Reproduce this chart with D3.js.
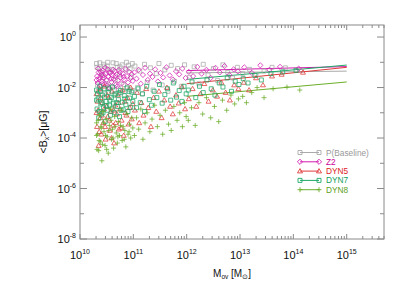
<!DOCTYPE html>
<html>
<head>
<meta charset="utf-8">
<script src="https://cdn.jsdelivr.net/npm/d3@7"></script>
<style>
  body { margin: 0; background: #fff; }
  text { font-family: "Liberation Sans", Arial, sans-serif; }
</style>
</head>
<body>
<svg></svg>
<script>
var width = 407;
var height = 291;

var margin = { left: 80, top: 25, right: 23, bottom: 52 };

// [log10 Mov, log10 <Bx>]
var baseline = [[10.31,-1.05],[10.32,-1.20],[10.33,-1.90],[10.34,-2.15],[10.36,-1.25],[10.37,-1.02],[10.39,-2.10],[10.41,-1.40],[10.42,-1.60],[10.44,-1.08],[10.46,-1.15],[10.47,-2.25],[10.49,-1.85],[10.51,-1.15],[10.52,-1.00],[10.54,-2.00],[10.56,-1.35],[10.58,-1.95],[10.60,-1.28],[10.62,-1.02],[10.64,-2.10],[10.66,-1.70],[10.68,-1.05],[10.70,-1.20],[10.72,-2.05],[10.74,-1.50],[10.75,-1.18],[10.77,-2.20],[10.79,-1.10],[10.82,-1.88],[10.84,-2.15],[10.86,-1.30],[10.87,-1.00],[10.89,-1.98],[10.91,-1.12],[10.93,-2.08],[10.94,-1.25],[10.96,-1.58],[10.98,-1.05],[10.99,-2.12],
  [11.03,-1.15],[11.08,-2.00],[11.12,-1.35],[11.17,-2.25],[11.21,-1.08],[11.26,-1.80],[11.32,-1.22],[11.37,-2.10],[11.43,-1.45],[11.48,-1.05],[11.54,-1.90],[11.59,-1.30],[11.65,-2.15],[11.71,-1.12],[11.77,-1.75],[11.83,-1.25],[11.90,-1.95],[11.96,-1.10],
  [12.05,-1.60],[12.14,-1.18],[12.23,-1.85],[12.31,-1.08],[12.40,-1.50],[12.50,-1.25],[12.58,-1.72],[12.68,-1.10],[12.77,-1.40],[12.86,-1.62],[12.95,-1.20],
  [13.05,-1.45],[13.18,-1.28],[13.30,-1.52],[13.45,-1.35],[13.60,-1.20],[13.85,-1.22],[14.15,-1.32]];

var z2 = [[10.31,-1.70],[10.32,-1.55],[10.33,-1.82],[10.34,-1.25],[10.35,-1.40],[10.36,-1.68],[10.37,-1.60],[10.38,-1.95],[10.39,-1.38],[10.40,-1.50],[10.41,-1.75],[10.42,-1.85],[10.43,-1.33],[10.44,-1.52],[10.45,-1.62],[10.46,-1.88],[10.47,-1.22],[10.48,-1.45],[10.50,-1.70],[10.51,-1.92],[10.52,-1.28],[10.53,-1.58],[10.54,-1.40],[10.55,-2.02],[10.57,-1.42],[10.58,-1.65],[10.59,-1.78],[10.61,-1.52],[10.62,-1.30],[10.63,-1.66],[10.65,-1.35],[10.66,-1.55],[10.67,-1.90],[10.69,-1.48],[10.70,-1.95],[10.71,-1.72],[10.73,-1.30],[10.75,-1.40],[10.76,-1.60],[10.78,-1.84],[10.80,-1.44],[10.82,-1.58],[10.83,-1.68],[10.85,-1.25],[10.88,-1.55],[10.90,-1.80],[10.92,-1.38],[10.95,-1.62],[10.97,-1.47],[10.99,-1.74],
  [11.02,-1.40],[11.06,-1.65],[11.10,-1.30],[11.14,-1.85],[11.18,-1.50],[11.22,-1.22],[11.27,-1.70],[11.31,-1.45],[11.36,-1.58],[11.41,-1.28],[11.46,-1.76],[11.51,-1.42],[11.56,-1.60],[11.62,-1.20],[11.68,-1.52],[11.74,-1.68],[11.80,-1.35],[11.86,-1.48],[11.92,-1.25],[11.98,-1.62],
  [12.04,-1.38],[12.12,-1.55],[12.20,-1.18],[12.28,-1.45],[12.37,-1.30],[12.45,-1.62],[12.54,-1.22],[12.62,-1.40],[12.71,-1.15],[12.80,-1.50],[12.88,-1.28],[12.96,-1.36],
  [13.08,-1.20],[13.22,-1.42],[13.38,-1.12],[13.55,-1.30],[13.75,-1.18],[14.10,-1.25]];

var dyn5 = [[10.31,-2.25],[10.31,-3.00],[10.32,-3.55],[10.33,-2.55],[10.34,-2.90],[10.35,-4.30],[10.36,-3.75],[10.37,-2.05],[10.38,-3.20],[10.39,-2.40],[10.40,-3.85],[10.41,-3.10],[10.42,-2.60],[10.44,-3.40],[10.45,-2.85],[10.46,-1.95],[10.47,-3.55],[10.48,-4.05],[10.50,-2.75],[10.51,-2.30],[10.52,-3.15],[10.54,-2.40],[10.55,-3.30],[10.56,-3.70],[10.58,-2.95],[10.59,-4.00],[10.60,-2.15],[10.62,-3.50],[10.63,-2.90],[10.64,-4.20],[10.66,-2.70],[10.67,-3.40],[10.69,-3.05],[10.71,-2.30],[10.72,-2.60],[10.73,-3.65],[10.75,-2.85],[10.77,-3.60],[10.78,-3.30],[10.80,-2.10],[10.82,-3.90],[10.84,-2.55],[10.85,-3.00],[10.87,-3.10],[10.89,-2.40],[10.91,-3.45],[10.93,-2.80],[10.95,-2.00],[10.97,-3.25],[10.99,-2.65],
  [11.03,-2.90],[11.07,-2.20],[11.11,-3.40],[11.15,-2.60],[11.19,-3.10],[11.24,-2.05],[11.28,-2.80],[11.33,-3.55],[11.38,-2.40],[11.43,-2.95],[11.48,-2.15],[11.53,-3.20],[11.58,-2.50],[11.63,-2.00],[11.69,-2.75],[11.74,-3.05],[11.80,-2.30],[11.85,-2.62],[11.91,-1.98],[11.97,-2.85],
  [12.04,-2.45],[12.11,-2.05],[12.18,-2.75],[12.26,-2.25],[12.33,-1.85],[12.41,-2.55],[12.49,-2.10],[12.57,-2.35],[12.65,-1.80],[12.73,-2.20],[12.81,-2.50],[12.89,-1.90],[12.97,-2.05],
  [13.07,-1.80],[13.17,-2.10],[13.30,-1.62],[13.43,-1.90],[13.60,-1.55],[13.78,-1.48],[14.18,-1.40]];

var dyn7 = [[10.31,-2.10],[10.31,-2.50],[10.32,-2.85],[10.33,-2.25],[10.34,-2.45],[10.35,-3.20],[10.36,-2.95],[10.37,-1.95],[10.38,-2.15],[10.39,-2.65],[10.40,-3.05],[10.41,-2.60],[10.42,-2.30],[10.43,-3.00],[10.44,-2.80],[10.45,-2.05],[10.46,-2.38],[10.47,-3.35],[10.49,-2.55],[10.50,-2.72],[10.51,-2.90],[10.53,-2.20],[10.54,-2.05],[10.55,-2.70],[10.56,-2.50],[10.57,-3.10],[10.59,-2.40],[10.60,-2.85],[10.61,-1.98],[10.63,-2.62],[10.64,-2.30],[10.65,-3.00],[10.67,-2.25],[10.68,-2.60],[10.70,-2.75],[10.72,-2.48],[10.73,-2.22],[10.74,-3.15],[10.76,-2.12],[10.77,-2.90],[10.79,-2.58],[10.81,-2.88],[10.83,-2.32],[10.84,-2.45],[10.86,-2.68],[10.88,-2.02],[10.90,-2.95],[10.92,-2.15],[10.93,-2.42],[10.95,-2.78],[10.97,-2.18],[10.99,-2.55],
  [11.02,-2.35],[11.06,-2.80],[11.09,-2.05],[11.13,-2.60],[11.17,-2.25],[11.21,-2.95],[11.25,-1.95],[11.30,-2.48],[11.34,-2.70],[11.39,-2.15],[11.44,-2.40],[11.49,-1.88],[11.54,-2.62],[11.59,-2.28],[11.64,-2.05],[11.70,-2.50],[11.75,-1.82],[11.81,-2.38],[11.86,-2.12],[11.91,-2.55],[11.95,-1.95],[11.99,-2.25],
  [12.03,-2.10],[12.10,-1.78],[12.17,-2.40],[12.24,-1.95],[12.31,-2.20],[12.38,-1.70],[12.46,-2.05],[12.53,-2.30],[12.61,-1.82],[12.68,-1.98],[12.76,-1.62],[12.84,-2.15],[12.91,-1.75],[12.98,-1.88],
  [13.06,-1.65],[13.15,-1.82],[13.28,-1.52],[13.40,-1.70],[13.58,-1.45],[13.80,-1.38],[14.05,-1.32]];

var dyn8 = [[10.31,-3.40],[10.31,-3.90],[10.32,-4.45],[10.33,-3.85],[10.34,-3.30],[10.35,-4.50],[10.36,-3.10],[10.36,-4.10],[10.38,-4.15],[10.39,-3.55],[10.40,-3.60],[10.41,-4.90],[10.42,-4.25],[10.43,-2.95],[10.44,-3.40],[10.45,-3.75],[10.47,-4.30],[10.48,-3.90],[10.49,-3.25],[10.50,-4.45],[10.51,-3.95],[10.53,-4.60],[10.54,-3.70],[10.55,-3.50],[10.57,-2.85],[10.58,-3.30],[10.59,-4.05],[10.61,-3.65],[10.62,-4.00],[10.63,-4.40],[10.65,-3.15],[10.66,-3.55],[10.68,-3.80],[10.70,-4.20],[10.71,-3.95],[10.72,-3.35],[10.74,-3.90],[10.76,-3.50],[10.77,-2.90],[10.79,-4.10],[10.81,-3.55],[10.83,-4.05],[10.84,-3.70],[10.86,-4.35],[10.88,-3.05],[10.90,-3.85],[10.92,-3.75],[10.93,-3.45],[10.95,-4.00],[10.97,-3.20],[10.99,-3.60],
  [11.02,-3.90],[11.06,-3.20],[11.10,-3.65],[11.14,-2.85],[11.18,-4.05],[11.22,-3.40],[11.26,-3.00],[11.31,-3.75],[11.35,-3.25],[11.40,-2.70],[11.45,-3.55],[11.50,-3.10],[11.55,-3.85],[11.60,-2.90],[11.66,-3.45],[11.71,-3.70],[11.76,-2.75],[11.82,-3.30],[11.87,-3.00],[11.92,-3.55],[11.96,-2.60],[11.99,-3.15],
  [12.03,-3.30],[12.09,-2.80],[12.16,-3.50],[12.23,-2.60],[12.30,-3.05],[12.37,-2.40],[12.45,-3.20],[12.52,-2.75],[12.60,-3.35],[12.67,-2.50],[12.75,-2.90],[12.83,-2.30],[12.90,-2.65],[12.97,-2.45],
  [13.05,-2.35],[13.12,-2.60],[13.22,-2.20],[13.32,-2.00],[13.45,-2.40],[13.62,-2.05],[13.88,-1.98],[14.12,-2.10]];

// power-law fits, end points [log10 M, log10 B]
var fitBaseline = [[12, -1.42], [15, -1.35]];
var fitZ2 = [[12, -1.33], [15, -1.17]];
var fitDyn5 = [[12, -1.85], [15, -1.20]];
var fitDyn7 = [[12, -1.68], [15, -1.11]];
var fitDyn8 = [[12, -2.35], [15, -1.78]];

var seriesNames = ["P(Baseline)", "Z2", "DYN5", "DYN7", "DYN8"];
var xExponents = [10, 11, 12, 13, 14, 15];
var yExponents = [0, -2, -4, -6, -8];

var series = [
  { name: seriesNames[0], pts: baseline, fit: fitBaseline, color: "#aaaaaa", text: "#999999", shape: "M-2,-2h4v4h-4z" },
  { name: seriesNames[1], pts: z2, fit: fitZ2, color: "#d21cb0", text: "#cc0099", shape: "M0,-2.6L2.6,0L0,2.6L-2.6,0Z" },
  { name: seriesNames[2], pts: dyn5, fit: fitDyn5, color: "#e03a3a", text: "#dd2222", shape: "M0,-2.5L2.5,1.8H-2.5Z" },
  { name: seriesNames[3], pts: dyn7, fit: fitDyn7, color: "#1ea866", text: "#11a05a", shape: "M-2,-2h4v4h-4z" },
  { name: seriesNames[4], pts: dyn8, fit: fitDyn8, color: "#6cae2a", text: "#5aa020", shape: "M-2.5,0H2.5M0,-2.5V2.5" }
];

var svg = d3.select("svg").attr("width", width).attr("height", height);

var x = d3.scaleLog()
  .domain([1e10, 5e15])
  .range([margin.left, width - margin.right]);

var y = d3.scaleLog()
  .domain([1e-8, 3])
  .range([height - margin.bottom, margin.top]);

var x0 = x.range()[0], x1 = x.range()[1];
var y0 = y.range()[0], y1 = y.range()[1];
var axisColor = "#8a8a8a";

// fit lines first, points on top
var line = d3.line()
  .x(d => x(Math.pow(10, d[0])))
  .y(d => y(Math.pow(10, d[1])));

series.forEach(s => {
  svg.append("path")
    .attr("d", line(s.fit))
    .attr("fill", "none")
    .attr("stroke", s.color)
    .attr("stroke-width", 1);
});

series.forEach(s => {
  svg.append("g")
    .selectAll("path")
    .data(s.pts)
    .enter()
    .append("path")
    .attr("transform", d => "translate(" + x(Math.pow(10, d[0])) + "," + y(Math.pow(10, d[1])) + ")")
    .attr("d", s.shape)
    .attr("fill", "none")
    .attr("stroke", s.color)
    .attr("stroke-opacity", 0.9)
    .attr("stroke-width", 0.85);
});

// frame
svg.append("rect")
  .attr("x", x0).attr("y", y1)
  .attr("width", x1 - x0).attr("height", y0 - y1)
  .attr("fill", "none")
  .attr("stroke", axisColor)
  .attr("stroke-width", 1);

// x ticks (bottom and top, pointing inside)
var xTicks = x.ticks(60).filter(v => v >= 1e10 && v <= 5e15);
xTicks.forEach(v => {
  var major = Math.abs(Math.log10(v) - Math.round(Math.log10(v))) < 1e-6;
  var len = major ? 5 : 3;
  svg.append("line")
    .attr("x1", x(v)).attr("x2", x(v))
    .attr("y1", y0).attr("y2", y0 - len)
    .attr("stroke", axisColor);
  svg.append("line")
    .attr("x1", x(v)).attr("x2", x(v))
    .attr("y1", y1).attr("y2", y1 + len)
    .attr("stroke", axisColor);
});

// y ticks every decade, longer where labelled
for (var e = -8; e <= 0; e++) {
  var len = (e % 2 === 0) ? 7 : 4;
  var yy = y(Math.pow(10, e));
  svg.append("line")
    .attr("x1", x0).attr("x2", x0 + len)
    .attr("y1", yy).attr("y2", yy)
    .attr("stroke", axisColor);
  svg.append("line")
    .attr("x1", x1).attr("x2", x1 - len)
    .attr("y1", yy).attr("y2", yy)
    .attr("stroke", axisColor);
}

// tick labels
xExponents.forEach(e => {
  var t = svg.append("text")
    .attr("x", x(Math.pow(10, e)))
    .attr("y", y0 + 20)
    .attr("text-anchor", "middle")
    .attr("font-size", 11)
    .attr("fill", "#111");
  t.append("tspan").text("10");
  t.append("tspan").attr("dy", -5).attr("font-size", 7).text(e);
});

yExponents.forEach(e => {
  var t = svg.append("text")
    .attr("x", x0 - 4)
    .attr("y", y(Math.pow(10, e)) + 4)
    .attr("text-anchor", "end")
    .attr("font-size", 11)
    .attr("fill", "#111");
  t.append("tspan").text("10");
  t.append("tspan").attr("dy", -5).attr("font-size", 7).text(e);
});

// axis titles
var xTitle = svg.append("text")
  .attr("x", (x0 + x1) / 2)
  .attr("y", y0 + 38)
  .attr("text-anchor", "middle")
  .attr("font-size", 10)
  .attr("fill", "#111");
xTitle.append("tspan").text("M");
xTitle.append("tspan").attr("dy", 2).attr("font-size", 6.5).text("ov");
xTitle.append("tspan").attr("dy", -2).text(" [M");
xTitle.append("tspan").attr("dy", 2).attr("font-size", 6.5).text("\u2299");
xTitle.append("tspan").attr("dy", -2).text("]");

var yTitle = svg.append("text")
  .attr("transform", "translate(47," + ((y0 + y1) / 2) + ") rotate(-90)")
  .attr("text-anchor", "middle")
  .attr("font-size", 10.5)
  .attr("fill", "#111");
yTitle.append("tspan").text("<B");
yTitle.append("tspan").attr("dy", 2).attr("font-size", 7).text("x");
yTitle.append("tspan").attr("dy", -2).text(">[\u03bcG]");

// legend
var legend = svg.append("g").attr("transform", "translate(300,152.5)");
var rows = legend.selectAll("g")
  .data(series)
  .enter()
  .append("g")
  .attr("transform", (d, i) => "translate(0," + (i * 9.3) + ")");
rows.append("line")
  .attr("x1", 0).attr("x2", 19)
  .attr("stroke", d => d.color)
  .attr("stroke-width", 1);
rows.each(function(d) {
  var g = d3.select(this);
  [0, 19].forEach(px => {
    g.append("path")
      .attr("transform", "translate(" + px + ",0)")
      .attr("d", d.shape)
      .attr("fill", "none")
      .attr("stroke", d.color)
      .attr("stroke-width", 0.9);
  });
});
rows.append("text")
  .attr("x", 26)
  .attr("y", 3)
  .attr("font-size", 8.3)
  .attr("fill", d => d.text)
  .text(d => d.name);
</script>
</body>
</html>
